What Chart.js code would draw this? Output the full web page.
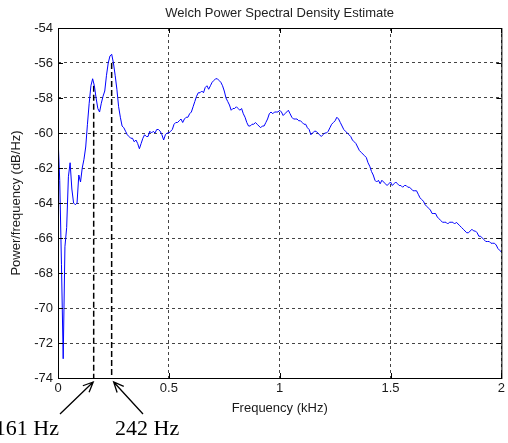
<!DOCTYPE html>
<html>
<head>
<meta charset="utf-8">
<script src="https://cdn.jsdelivr.net/npm/chart.js@4.4.1/dist/chart.umd.min.js"></script>
<style>
  html, body { margin: 0; padding: 0; background: #fff; }
  #wrap { width: 508px; height: 443px; }
</style>
</head>
<body>
<div id="wrap"><canvas id="psdChart"></canvas></div>
<script>
// Welch PSD, fs = 4 kHz, nfft = 512 -> 257 bins from 0 to 2 kHz
const binKHz = 0.0078125;
const psdDb = [
  -60.2, -62.7, -67.5, -72.9, -66.5, -65.4, -62.5, -61.7, -63.2, -64.0, -64.1, -64.0, -62.4, -62.8, -62.0, -61.5,
  -60.8, -59.5, -58.3, -57.3, -56.9, -57.3, -58.0, -58.6, -58.8, -58.3, -57.9, -57.6, -56.7, -56.0, -55.6, -55.5,
  -56.0, -56.7, -57.5, -58.5, -59.1, -59.6, -59.7, -59.9, -60.1, -60.2, -60.3, -60.3, -60.5, -60.4, -60.6, -60.9,
  -60.6, -60.3, -60.1, -60.2, -60.2, -59.9, -60.0, -59.9, -60.0, -59.8, -59.8, -59.9, -60.1, -60.4, -60.1, -60.0,
  -60.0, -59.9, -59.8, -59.5, -59.4, -59.4, -59.3, -59.2, -59.4, -59.2, -59.1, -59.1, -58.9, -58.8, -58.5, -58.2,
  -57.9, -57.7, -57.7, -57.6, -57.7, -57.4, -57.3, -57.5, -57.3, -57.1, -57.0, -56.9, -56.9, -57.0, -57.1, -57.3,
  -57.6, -58.0, -58.2, -58.4, -58.7, -58.6, -58.6, -58.5, -58.6, -58.7, -58.6, -58.9, -59.1, -59.4, -59.6, -59.6,
  -59.5, -59.5, -59.4, -59.5, -59.6, -59.7, -59.6, -59.6, -59.4, -59.2, -58.9, -58.8, -58.9, -58.8, -58.8, -58.8,
  -58.7, -58.8, -59.0, -58.9, -58.8, -58.7, -58.9, -59.1, -59.2, -59.2, -59.2, -59.3, -59.3, -59.4, -59.5, -59.5,
  -59.7, -59.8, -60.1, -60.0, -59.9, -59.9, -60.0, -60.1, -60.2, -60.1, -60.0, -60.0, -59.9, -59.7, -59.5, -59.4,
  -59.3, -59.1, -59.2, -59.4, -59.6, -59.8, -59.9, -60.0, -60.1, -60.2, -60.4, -60.5, -60.6, -60.8, -61.0, -61.1,
  -61.2, -61.3, -61.4, -61.7, -61.9, -62.2, -62.4, -62.7, -62.8, -62.7, -62.9, -62.7, -62.8, -62.9, -63.0, -62.9,
  -62.8, -63.0, -62.9, -62.8, -62.9, -63.0, -63.0, -63.1, -63.0, -63.0, -63.1, -63.1, -63.2, -63.3, -63.3, -63.3,
  -63.5, -63.7, -63.8, -63.9, -64.1, -64.2, -64.3, -64.4, -64.6, -64.6, -64.6, -64.8, -64.9, -65.0, -65.1, -65.1,
  -65.1, -65.2, -65.1, -65.1, -65.1, -65.2, -65.1, -65.2, -65.3, -65.4, -65.5, -65.6, -65.7, -65.7, -65.6, -65.5,
  -65.6, -65.6, -65.7, -65.9, -65.9, -66.0, -66.1, -66.2, -66.2, -66.2, -66.3, -66.3, -66.3, -66.4, -66.6, -66.7,
  -66.8
];
const freqKHz = psdDb.map((_, i) => i * binKHz);

const xTicks = [0, 0.5, 1, 1.5, 2];
const yTicks = [-54, -56, -58, -60, -62, -64, -66, -68, -70, -72, -74];

// the two peaks marked below the axis
const peakHz = [161, 242];
const peakTopDb = [-57.3, -56.0];

const sans = "'Liberation Sans', Arial, sans-serif";
Chart.defaults.font.family = sans;
Chart.defaults.font.size = 13;
Chart.defaults.color = "#000";

const markerSets = peakHz.map((hz, k) => ({
  data: [{ x: hz / 1000, y: peakTopDb[k] }, { x: hz / 1000, y: yTicks[yTicks.length - 1] }],
  borderColor: "#000",
  borderWidth: 1.5,
  borderDash: [6, 3],
  pointRadius: 0,
  clip: false
}));

function arrow(ctx, x0, y0, x1, y1) {
  const ang = Math.atan2(y1 - y0, x1 - x0);
  const head = 11, spread = 0.42;
  ctx.beginPath();
  ctx.moveTo(x0, y0);
  ctx.lineTo(x1, y1);
  ctx.moveTo(x1 - head * Math.cos(ang - spread), y1 - head * Math.sin(ang - spread));
  ctx.lineTo(x1, y1);
  ctx.lineTo(x1 - head * Math.cos(ang + spread), y1 - head * Math.sin(ang + spread));
  ctx.stroke();
}

// box, inward ticks, title and the Hz callouts
const framePlugin = {
  id: "frame",
  afterDraw(chart) {
    const { ctx, chartArea: a, scales: { x, y } } = chart;
    ctx.save();
    ctx.setLineDash([]);
    ctx.strokeStyle = "#000";
    ctx.lineWidth = 1;
    ctx.strokeRect(a.left + 0.5, a.top + 0.5, a.right - a.left, a.bottom - a.top);

    ctx.beginPath();
    xTicks.forEach(v => {
      const px = Math.round(x.getPixelForValue(v)) + 0.5;
      ctx.moveTo(px, a.bottom); ctx.lineTo(px, a.bottom - 5);
      ctx.moveTo(px, a.top); ctx.lineTo(px, a.top + 5);
    });
    yTicks.forEach(v => {
      const py = Math.round(y.getPixelForValue(v)) + 0.5;
      ctx.moveTo(a.left, py); ctx.lineTo(a.left + 5, py);
      ctx.moveTo(a.right, py); ctx.lineTo(a.right - 5, py);
    });
    ctx.stroke();

    ctx.fillStyle = "#222";
    ctx.font = "13px " + sans;
    ctx.textAlign = "center";
    ctx.textBaseline = "middle";
    ctx.fillText("Welch Power Spectral Density Estimate", (a.left + a.right) / 2, 13);

    ctx.strokeStyle = "#000";
    ctx.lineWidth = 1.3;
    const tip1 = x.getPixelForValue(peakHz[0] / 1000) - 0.5;
    const tip2 = x.getPixelForValue(peakHz[1] / 1000) + 2;
    arrow(ctx, 60, 414, tip1, a.bottom + 4);
    arrow(ctx, 143, 414, tip2, a.bottom + 4);

    ctx.fillStyle = "#000";
    ctx.font = "22px 'Liberation Serif', 'Times New Roman', serif";
    ctx.textBaseline = "alphabetic";
    ctx.textAlign = "right";
    ctx.fillText(peakHz[0] + " Hz", 59, 435);
    ctx.textAlign = "left";
    ctx.fillText(peakHz[1] + " Hz", 115, 435);
    ctx.restore();
  }
};

new Chart(document.getElementById("psdChart"), {
  type: "line",
  data: {
    datasets: [{
      data: freqKHz.map((f, i) => ({ x: f, y: psdDb[i] })),
      borderColor: "#0000ff",
      borderWidth: 1,
      pointRadius: 0,
      tension: 0
    }, ...markerSets]
  },
  options: {
    responsive: true,
    maintainAspectRatio: false,
    animation: false,
    events: [],
    layout: { padding: { top: 28, right: 6, left: 0, bottom: 0 } },
    plugins: { legend: { display: false }, tooltip: { enabled: false }, title: { display: false } },
    scales: {
      x: {
        type: "linear",
        min: 0,
        max: 2,
        afterBuildTicks: s => { s.ticks = xTicks.map(v => ({ value: v })); },
        afterFit: s => { s.height = 65; },
        ticks: { padding: 3, color: "#1a1a1a", callback: v => String(v), maxRotation: 0 },
        grid: { color: "#444", lineWidth: 1, drawTicks: false },
        border: { display: false, dash: [3, 3] },
        title: { display: true, text: "Frequency (kHz)", color: "#1a1a1a", padding: { top: 0, bottom: 27 } }
      },
      y: {
        type: "linear",
        min: -74,
        max: -54,
        afterBuildTicks: s => { s.ticks = yTicks.map(v => ({ value: v })); },
        afterFit: s => { s.width = 58; },
        ticks: { padding: 5, color: "#1a1a1a", callback: v => String(v) },
        grid: { color: "#444", lineWidth: 1, drawTicks: false },
        border: { display: false, dash: [3, 3] },
        title: { display: true, text: "Power/frequency (dB/Hz)", color: "#1a1a1a", padding: { top: 9, bottom: 0 } }
      }
    }
  },
  plugins: [framePlugin]
});
</script>
</body>
</html>
